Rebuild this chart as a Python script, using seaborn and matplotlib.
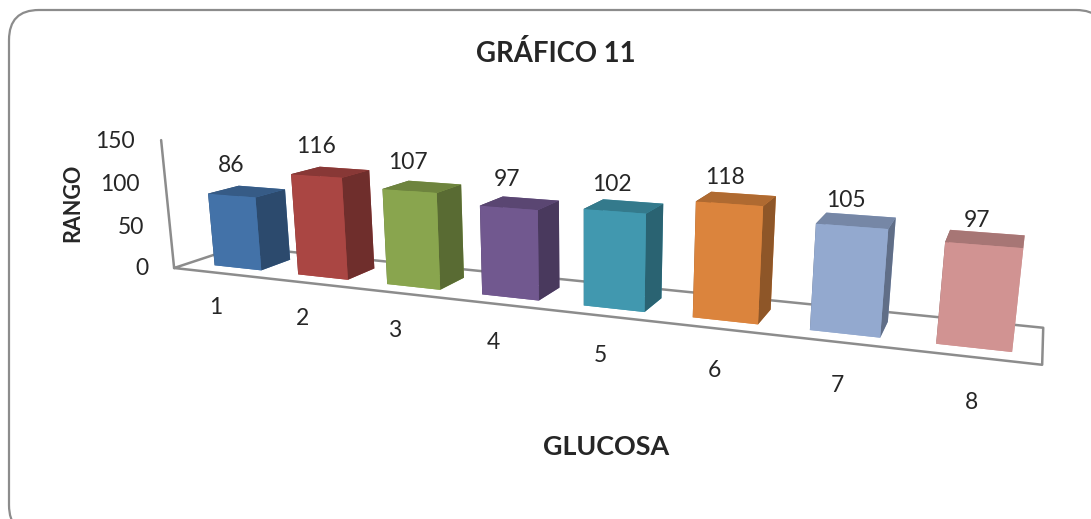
import matplotlib
matplotlib.use("Agg")
import matplotlib.pyplot as plt
from matplotlib.patches import FancyBboxPatch
from matplotlib.transforms import IdentityTransform
from mpl_toolkits.mplot3d import proj3d
import seaborn as sns

# Chart values
categories = ["1", "2", "3", "4", "5", "6", "7", "8"]
values = [86, 116, 107, 97, 102, 118, 105, 97]
z_ticks = [0, 50, 100, 150]
hex_colors = ["#4372A8", "#AA4643", "#89A54E", "#71588F",
              "#4198AF", "#DB843D", "#93A9CF", "#D19392"]
title_text = "GRÁFICO 11"
x_title = "GLUCOSA"
z_title = "RANGO"

sns.set_theme(style="white")
plt.rcParams["font.family"] = ["Lato", "DejaVu Sans"]
palette = sns.color_palette(hex_colors)

FW, FH = 1091, 519
fig = plt.figure(figsize=(FW / 100, FH / 100), dpi=100, facecolor="white")

# Rounded card behind the chart, running off the right and bottom edges
card = FancyBboxPatch((9, -16), 1097, 525,
                      boxstyle="round,pad=0,rounding_size=30",
                      transform=IdentityTransform(), fc="white", ec="#8C8C8C",
                      lw=1.6, zorder=-1)
fig.patches.append(card)

# Square 3D axes sized so the camera gives the wanted perspective
AW = 1000
cx, cy = 571.5, 316.5
ax = fig.add_axes([(cx - AW / 2) / FW, (FH - cy - AW / 2) / FH, AW / FW, AW / FH],
                  projection="3d", computed_zorder=False)
ax.patch.set_alpha(0)
ax.set_axis_off()

ax.set_xlim(0, 8.474)
ax.set_ylim(-0.355, 1.045)
ax.set_zlim(-150, 150)
ax.set_box_aspect((3.076, 0.462, 0.916), zoom=0.984)
ax.set_proj_type("persp", focal_length=0.2115)
ax.view_init(elev=15.9, azim=-68.5)
camera = ax.get_proj()


def label_at(x, y, z, text, **kw):
    """Write a flat label at the screen position of a 3D data point."""
    px, py, _ = proj3d.proj_transform(x, y, z, camera)
    ax.text2D(px, py, text, transform=ax.transData, va="center",
              fontsize=16.5, color="#262626", zorder=20, **kw)


# Floor outline and vertical axis
floor_depth = 1.1
line_kw = dict(color="#8C8C8C", lw=1.8, zorder=1, solid_capstyle="round")
ax.plot([0, 0, 8, 8, 0], [0, floor_depth, floor_depth, 0, 0], [0, 0, 0, 0, 0], **line_kw)
ax.plot([0, 0], [0, 0], [0, max(z_ticks)], **line_kw)

# Bars: one box per category, with darker top and side faces
bar_w, bar_y0, bar_d = 0.56, 0.26, 0.52
slot, first_center = 0.989, 0.58
for i, (val, col) in enumerate(zip(values, palette)):
    center = first_center + slot * i
    top = tuple(c * 0.80 for c in col)
    side = tuple(c * 0.65 for c in col)
    faces = [col, top, col, col, side, side]
    ax.bar3d(center - bar_w / 2, bar_y0, 0, bar_w, bar_d, val,
             color=faces, shade=False, zorder=2 + i, edgecolor="none")
    label_at(center + 0.03 - 0.014 * i, bar_y0, val + 35 - 1.9 * i, str(val), ha="center")
    label_at(0.46 + 1.01 * i, 0, -43, categories[i], ha="center")

for t in z_ticks:
    label_at(-0.32, 0, t - 4, str(t), ha="right")

fig.text(555.5 / FW, 1 - 53 / FH, title_text, ha="center", va="center",
         fontsize=19.8, fontweight="bold", color="#262626")
fig.text(606 / FW, 1 - 447 / FH, x_title, ha="center", va="center",
         fontsize=19.4, fontweight="bold", color="#262626")
fig.text(72.5 / FW, 1 - 203 / FH, z_title, ha="center", va="center", rotation=90,
         fontsize=15.5, fontweight="bold", color="#262626")

fig.savefig("out.png", dpi=100)
